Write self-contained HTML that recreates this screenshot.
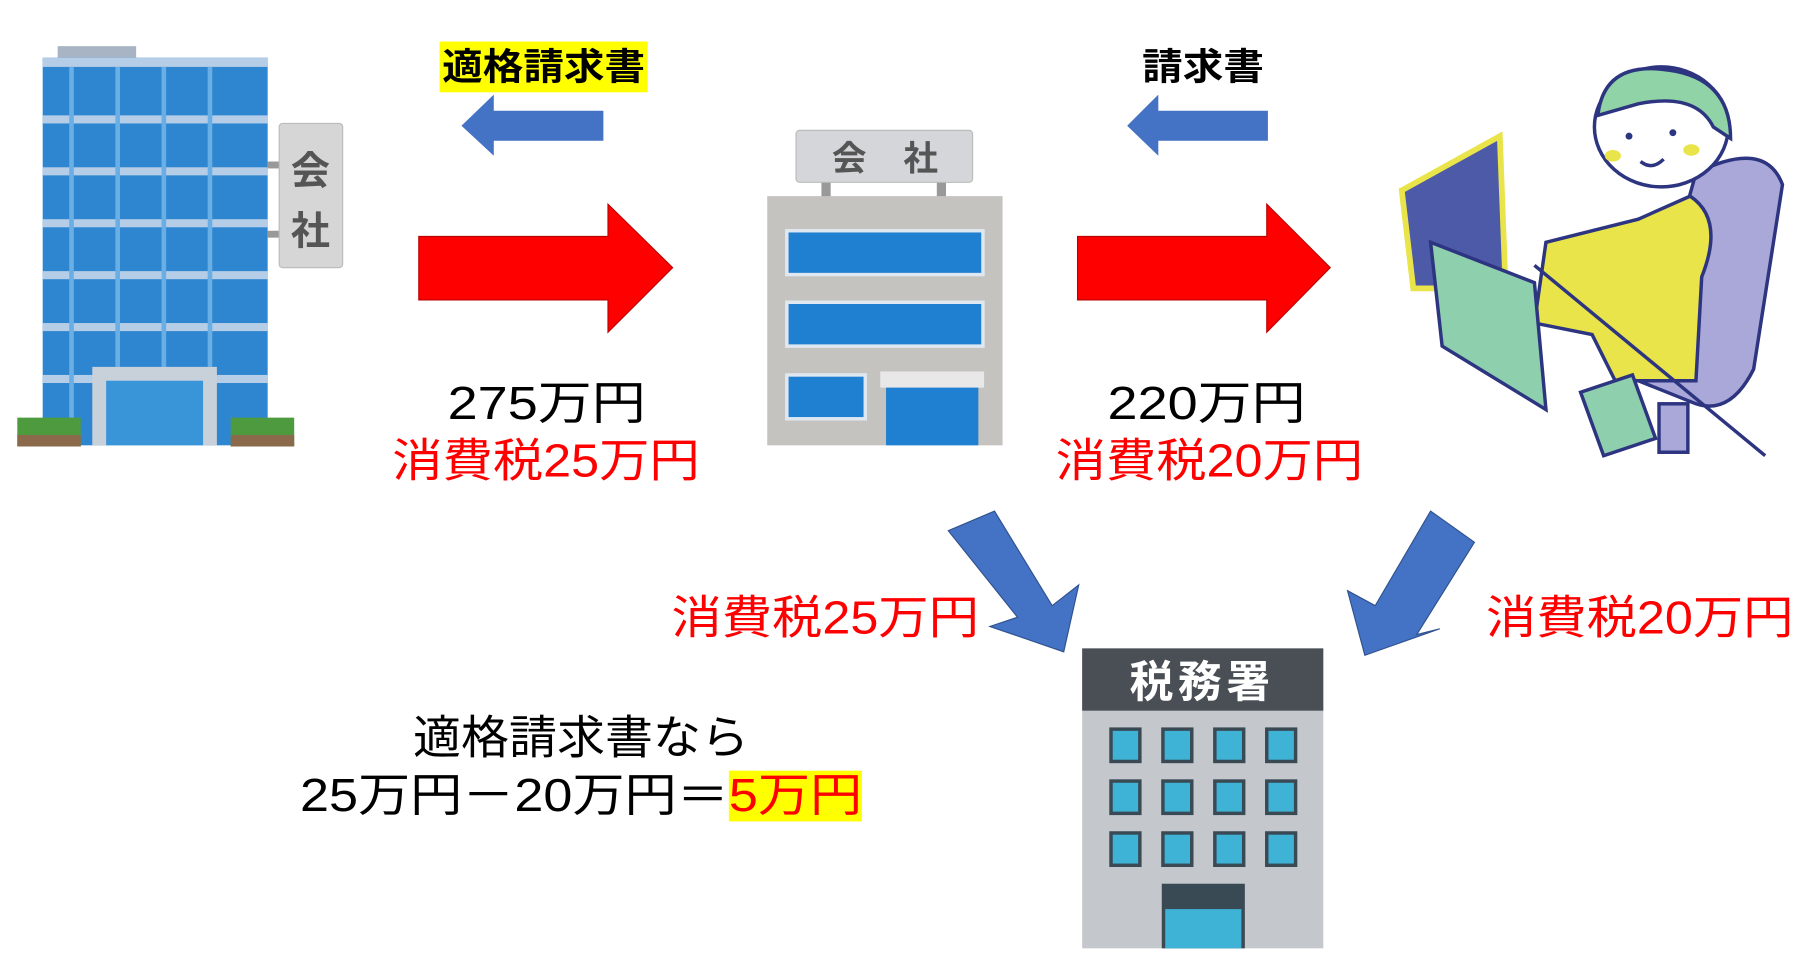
<!DOCTYPE html>
<html><head><meta charset="utf-8"><style>
body{margin:0;background:#fff;width:1809px;height:975px;overflow:hidden}
#c{position:absolute;left:0;top:0;width:1568px;height:845px;transform:scale(1.1537);transform-origin:0 0;font-family:"Liberation Sans","Noto Sans CJK JP",sans-serif}
.t{position:absolute;white-space:nowrap;font-size:40px;line-height:44px;transform-origin:0 0}
.r{color:#f00}
</style></head><body><div id="c">
<svg width="1568" height="845" style="position:absolute;left:0;top:0">
<rect x="50" y="40" width="68" height="14" fill="#a8b4c4"/>
<rect x="37" y="50" width="195" height="336" fill="#2e86d0"/>
<g fill="#b5cde6">
<rect x="37" y="50" width="195" height="8"/><rect x="37" y="100" width="195" height="7"/><rect x="37" y="145" width="195" height="7"/><rect x="37" y="190" width="195" height="7"/><rect x="37" y="235" width="195" height="7"/><rect x="37" y="280" width="195" height="7"/><rect x="37" y="325" width="195" height="7"/>
</g>
<g fill="#6aaee6"><rect x="60" y="58" width="4" height="320"/><rect x="100" y="58" width="4" height="260"/><rect x="140" y="58" width="4" height="260"/><rect x="180" y="58" width="4" height="260"/></g>
<rect x="80" y="318" width="108" height="68" fill="#c8d0da"/><rect x="92" y="330" width="84" height="56" fill="#3a95d8"/>
<rect x="15" y="362" width="55" height="25" fill="#4e9a3e"/><rect x="200" y="362" width="55" height="25" fill="#4e9a3e"/>
<rect x="15" y="377" width="55" height="10" fill="#8a6a4a"/><rect x="200" y="377" width="55" height="10" fill="#8a6a4a"/>
<rect x="232" y="140" width="12" height="6" fill="#999"/><rect x="232" y="200" width="12" height="6" fill="#999"/>
<rect x="242" y="107" width="55" height="125" rx="3" fill="#d6d6d6" stroke="#bbb"/>
<text x="269" y="160" font-size="34" font-weight="bold" fill="#555" text-anchor="middle" font-family="Noto Sans CJK JP">会</text>
<text x="269" y="212" font-size="34" font-weight="bold" fill="#555" text-anchor="middle" font-family="Noto Sans CJK JP">社</text>
<rect x="712" y="156" width="8" height="16" fill="#999"/><rect x="812" y="156" width="8" height="16" fill="#999"/>
<rect x="690" y="113" width="153" height="45" rx="3" fill="#d4d6da" stroke="#bbb"/>
<text x="736" y="148" font-size="30" font-weight="bold" fill="#555" text-anchor="middle" font-family="Noto Sans CJK JP">会</text>
<text x="798" y="148" font-size="30" font-weight="bold" fill="#555" text-anchor="middle" font-family="Noto Sans CJK JP">社</text>
<rect x="665" y="170" width="204" height="216" fill="#c5c3c0"/>
<rect x="682" y="200" width="170" height="38" fill="#1f7fd0" stroke="#dfe8f0" stroke-width="3"/>
<rect x="682" y="262" width="170" height="38" fill="#1f7fd0" stroke="#dfe8f0" stroke-width="3"/>
<rect x="682" y="325" width="68" height="38" fill="#1f7fd0" stroke="#dfe8f0" stroke-width="3"/>
<rect x="763" y="322" width="90" height="14" fill="#e8e8e8"/><rect x="768" y="336" width="80" height="50" fill="#1f7fd0"/>
<rect x="938" y="562" width="209" height="260" fill="#c4c7cc"/>
<rect x="938" y="562" width="209" height="54" fill="#4a4f55"/>
<text x="1042" y="604" font-size="38" font-weight="bold" fill="#fff" text-anchor="middle" font-family="Noto Sans CJK JP" letter-spacing="4">税務署</text>
<g fill="#3fb3d6" stroke="#3a4a55" stroke-width="3">
<rect x="963" y="632" width="25" height="28"/><rect x="1008" y="632" width="25" height="28"/><rect x="1053" y="632" width="25" height="28"/><rect x="1098" y="632" width="25" height="28"/>
<rect x="963" y="677" width="25" height="28"/><rect x="1008" y="677" width="25" height="28"/><rect x="1053" y="677" width="25" height="28"/><rect x="1098" y="677" width="25" height="28"/>
<rect x="963" y="722" width="25" height="28"/><rect x="1008" y="722" width="25" height="28"/><rect x="1053" y="722" width="25" height="28"/><rect x="1098" y="722" width="25" height="28"/>
</g>
<rect x="1007" y="766" width="72" height="56" fill="#3a4a55"/><rect x="1010" y="788" width="66" height="34" fill="#3fb3d6"/>
<path d="M1420 330 L1470 150 Q1530 120 1545 160 L1520 320 Q1500 360 1470 350 Z" fill="#a9a8d8" stroke="#2d3580" stroke-width="3"/>
<path d="M1340 210 L1420 190 L1465 170 Q1495 190 1475 240 L1470 330 L1400 330 L1380 290 L1330 280 Z" fill="#e8e44a" stroke="#2d3580" stroke-width="3"/>
<ellipse cx="1440" cy="110" rx="58" ry="52" fill="#fff" stroke="#2d3580" stroke-width="3"/>
<path d="M1385 100 Q1390 55 1440 60 Q1500 65 1500 120 L1485 110 Q1470 80 1420 90 Z" fill="#8fd3a7" stroke="#2d3580" stroke-width="3"/>
<circle cx="1412" cy="118" r="3" fill="#2d3580"/><circle cx="1450" cy="115" r="3" fill="#2d3580"/>
<ellipse cx="1398" cy="135" rx="7" ry="5" fill="#e8e44a"/><ellipse cx="1466" cy="130" rx="7" ry="5" fill="#e8e44a"/>
<path d="M1422 140 Q1432 148 1442 138" fill="none" stroke="#2d3580" stroke-width="3"/>
<path d="M1215 165 L1300 118 L1305 250 L1225 250 Z" fill="#4d5aa8" stroke="#e8e44a" stroke-width="5"/>
<path d="M1240 210 L1330 245 L1340 355 L1250 300 Z" fill="#8ecfae" stroke="#2d3580" stroke-width="3"/>
<path d="M1370 340 L1415 325 L1435 380 L1390 395 Z" fill="#8ecfae" stroke="#2d3580" stroke-width="3"/>
<rect x="1438" y="350" width="25" height="42" fill="#a9a8d8" stroke="#2d3580" stroke-width="3"/>
<line x1="1330" y1="230" x2="1530" y2="395" stroke="#2d3580" stroke-width="3"/>
<polygon points="363,205 527,205 527,177 583,232 527,288 527,260 363,260" fill="#f00" stroke="#b00" stroke-width="1"/>
<polygon points="934,205 1098,205 1098,177 1153,232 1098,288 1098,260 934,260" fill="#f00" stroke="#b00" stroke-width="1"/>
<polygon points="523,96 428,96 428,82 400,109 428,135 428,122 523,122" fill="#4472c4"/>
<polygon points="1099,96 1004,96 1004,82 977,109 1004,135 1004,122 1099,122" fill="#4472c4"/>
<polygon points="822,460 862,443 912,525 935,507 922,565 858,543 882,535" fill="#4472c4" stroke="#2f528f" stroke-width="1"/>
<polygon points="1240,443 1278,470 1228,550 1248,545 1183,568 1168,512 1192,525" fill="#4472c4" stroke="#2f528f" stroke-width="1"/>
</svg>
<div class="t" style="left:381px;top:36px;background:#ff0;font-size:32px;font-weight:bold;padding:0 2px;transform:scaleX(1.1)">適格請求書</div>
<div class="t" style="left:990px;top:36px;font-size:32px;font-weight:bold;transform:scaleX(1.1)">請求書</div>
<div class="t" style="left:388px;top:328px;transform:scaleX(1.17)">275万円</div>
<div class="t r" style="left:340px;top:378px;transform:scaleX(1.09)">消費税25万円</div>
<div class="t" style="left:960px;top:328px;transform:scaleX(1.17)">220万円</div>
<div class="t r" style="left:915px;top:378px;transform:scaleX(1.09)">消費税20万円</div>
<div class="t r" style="left:582px;top:514px;transform:scaleX(1.09)">消費税25万円</div>
<div class="t r" style="left:1288px;top:514px;transform:scaleX(1.09)">消費税20万円</div>
<div class="t" style="left:358px;top:618px;transform:scaleX(1.04)">適格請求書なら</div>
<div class="t" style="left:260px;top:668px;transform:scaleX(1.13)">25万円－20万円＝<span style="background:#ff0;color:#f00">5万円</span></div>
</div></body></html>
